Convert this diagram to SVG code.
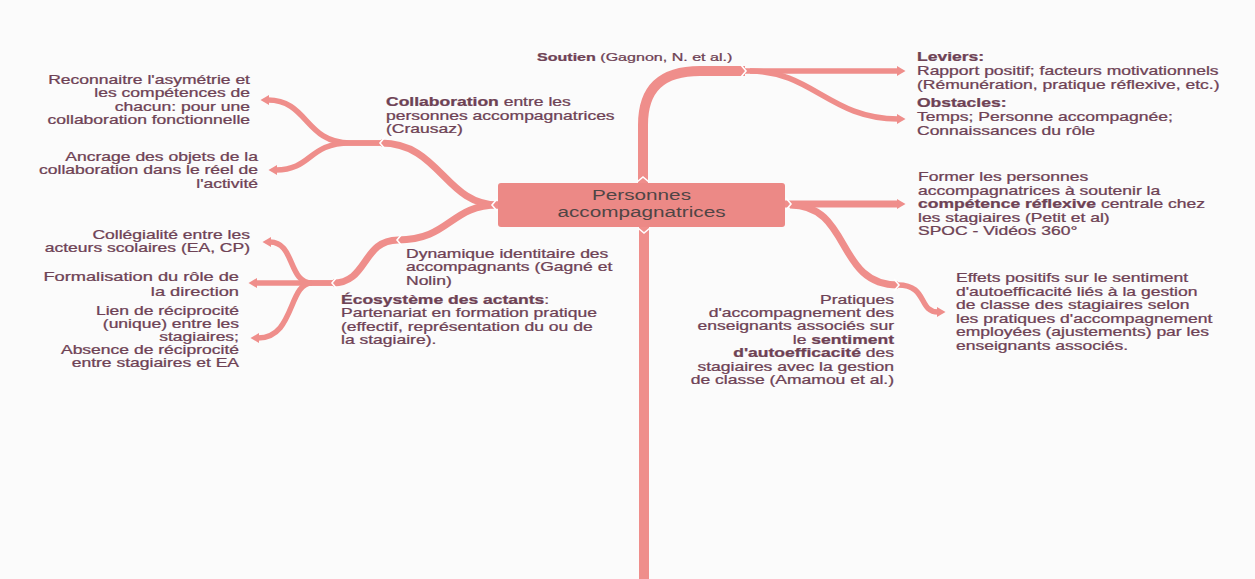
<svg xmlns="http://www.w3.org/2000/svg" width="1255" height="579" viewBox="0 0 1255 579">
<style>
.t{font-family:"Liberation Sans",Arial,sans-serif;font-size:12px;fill:#6e4255;stroke:#6e4255;stroke-width:0.25}
.e{text-anchor:end}
.b{font-weight:bold}
.c{stroke:#ef8e8b;fill:none}
.w1{stroke-width:10}.w2{stroke-width:7}.w3{stroke-width:5.5}
.a{marker-end:url(#ah)}
.n{stroke:#ffffff;stroke-width:1.6;fill:none}
.node{fill:#ec8986}
.nt{font-family:"Liberation Sans",Arial,sans-serif;font-size:14px;fill:#4f4545;text-anchor:middle}
</style>
<defs>
<marker id="ah" markerUnits="userSpaceOnUse" markerWidth="10" markerHeight="12" refX="1" refY="6" orient="auto">
<path d="M0,1 L8.5,6 L0,11 z" fill="#ef8e8b"/>
</marker>
</defs>
<rect width="1255" height="579" fill="#fbfbfb"/>
<g id="connectors">
<path class="c w1" d="M643,183 L643,125 C643,88 662,71 700,71 L745,71"/>
<path class="c w1" d="M644,227 L644,579"/>
<path class="c w3 a" d="M745,71 L898,71"/>
<path class="c w3 a" d="M750,71 C812,71 830,119 898,119"/>
<path class="c w2" d="M498,205 C445,205 440,143 381,143"/>
<path class="c w3 a" d="M381,143 L350,143 C305,143 308,100 268,100"/>
<path class="c w3 a" d="M381,143 L350,143 C308,143 312,170 276,170"/>
<path class="c w2" d="M498,205 C450,205 450,240 398,240"/>
<path class="c w2" d="M398,240 C362,240 368,283 333,283"/>
<path class="c w3 a" d="M333,283 L312,283 C288,283 295,242 270,242"/>
<path class="c w3 a" d="M333,283 L256,283"/>
<path class="c w3 a" d="M312,283 C288,283 295,338 258,338"/>
<path class="c w2 a" d="M785,204 L898,204"/>
<path class="c w2" d="M790,205 C852,205 835,285 898,285"/>
<path class="c w3 a" d="M898,285 C928,285 918,312 938,312"/>
<polyline class="n" points="741,65 746,71 741,77"/>
<polyline class="n" points="385,137 380,143 385,149"/>
<polyline class="n" points="402,234 397,240 402,246"/>
<polyline class="n" points="337,277 332,283 337,289"/>
<polyline class="n" points="894,279 899,285 894,291"/>
</g>
<g id="n-central">
<rect class="node" x="498" y="183" width="287" height="44" rx="3"/>
<polyline class="n" points="497,199 492,205 497,211"/>
<polyline class="n" points="786,198 791,204 786,210"/>
<polyline class="n" points="637,182 643,177 649,182"/>
<polyline class="n" points="638,228 644,233 650,228"/>
<g transform="translate(641.5,0) scale(1.48,1)">
<text class="nt" x="0" y="200">Personnes</text>
<text class="nt" x="0" y="217.5">accompagnatrices</text>
</g>
</g>
<g id="n-reconnaitre" class="t e" transform="translate(250,0) scale(1.46,1)">
<text x="0" y="84">Reconnaitre l'asymétrie et</text>
<text x="0" y="97.5">les compétences de</text>
<text x="0" y="111">chacun: pour une</text>
<text x="0" y="124.5">collaboration fonctionnelle</text>
</g>
<g id="n-ancrage" class="t e" transform="translate(258,0) scale(1.46,1)">
<text x="0" y="161">Ancrage des objets de la</text>
<text x="0" y="174.5">collaboration dans le réel de</text>
<text x="0" y="188">l'activité</text>
</g>
<g id="n-collegialite" class="t e" transform="translate(250,0) scale(1.46,1)">
<text x="0" y="239">Collégialité entre les</text>
<text x="0" y="252.5">acteurs scolaires (EA, CP)</text>
</g>
<g id="n-formalisation" class="t e" transform="translate(239,0) scale(1.46,1)" style="font-size:12.5px">
<text x="0" y="281.5">Formalisation du rôle de</text>
<text x="0" y="296.5">la direction</text>
</g>
<g id="n-lien" class="t e" transform="translate(239,0) scale(1.46,1)">
<text x="0" y="315.5">Lien de réciprocité</text>
<text x="0" y="328.5">(unique) entre les</text>
<text x="0" y="341.5">stagiaires;</text>
<text x="0" y="354.5">Absence de réciprocité</text>
<text x="0" y="367.5">entre stagiaires et EA</text>
</g>
<g id="n-collaboration" class="t" transform="translate(386,0) scale(1.46,1)">
<text x="0" y="106.5"><tspan class="b">Collaboration</tspan> entre les</text>
<text x="0" y="120">personnes accompagnatrices</text>
<text x="0" y="133.5">(Crausaz)</text>
</g>
<g id="n-dynamique" class="t" transform="translate(406,0) scale(1.46,1)">
<text x="0" y="258">Dynamique identitaire des</text>
<text x="0" y="271.5">accompagnants (Gagné et</text>
<text x="0" y="285">Nolin)</text>
</g>
<g id="n-ecosysteme" class="t" transform="translate(341,0) scale(1.46,1)">
<text x="0" y="304"><tspan class="b">Écosystème des actants</tspan>:</text>
<text x="0" y="317.5">Partenariat en formation pratique</text>
<text x="0" y="331">(effectif, représentation du ou de</text>
<text x="0" y="344.5">la stagiaire).</text>
</g>
<g id="n-soutien" class="t" transform="translate(537,0) scale(1.46,1)" style="font-size:11px">
<text x="0" y="61"><tspan class="b">Soutien</tspan> (Gagnon, N. et al.)</text>
</g>
<g id="n-leviers" class="t" transform="translate(917,0) scale(1.46,1)">
<text x="0" y="61" class="b">Leviers:</text>
<text x="0" y="75.5">Rapport positif; facteurs motivationnels</text>
<text x="0" y="89">(Rémunération, pratique réflexive, etc.)</text>
</g>
<g id="n-obstacles" class="t" transform="translate(917,0) scale(1.46,1)">
<text x="0" y="107.5" class="b">Obstacles:</text>
<text x="0" y="121.5">Temps; Personne accompagnée;</text>
<text x="0" y="135.5">Connaissances du rôle</text>
</g>
<g id="n-former" class="t" transform="translate(918,0) scale(1.46,1)">
<text x="0" y="181.5">Former les personnes</text>
<text x="0" y="195">accompagnatrices à soutenir la</text>
<text x="0" y="208.5"><tspan class="b">compétence réflexive</tspan> centrale chez</text>
<text x="0" y="222">les stagiaires (Petit et al)</text>
<text x="0" y="235.5">SPOC - Vidéos 360°</text>
</g>
<g id="n-effets" class="t" transform="translate(956,0) scale(1.46,1)">
<text x="0" y="282.5">Effets positifs sur le sentiment</text>
<text x="0" y="296">d'autoefficacité liés à la gestion</text>
<text x="0" y="309.5">de classe des stagiaires selon</text>
<text x="0" y="323">les pratiques d'accompagnement</text>
<text x="0" y="336.5">employées (ajustements) par les</text>
<text x="0" y="350">enseignants associés.</text>
</g>
<g id="n-pratiques" class="t e" transform="translate(894,0) scale(1.46,1)">
<text x="0" y="304">Pratiques</text>
<text x="0" y="317">d'accompagnement des</text>
<text x="0" y="330.5">enseignants associés sur</text>
<text x="0" y="344">le <tspan class="b">sentiment</tspan></text>
<text x="0" y="357.5"><tspan class="b">d'autoefficacité</tspan> des</text>
<text x="0" y="371">stagiaires avec la gestion</text>
<text x="0" y="384.5">de classe (Amamou et al.)</text>
</g>
</svg>
